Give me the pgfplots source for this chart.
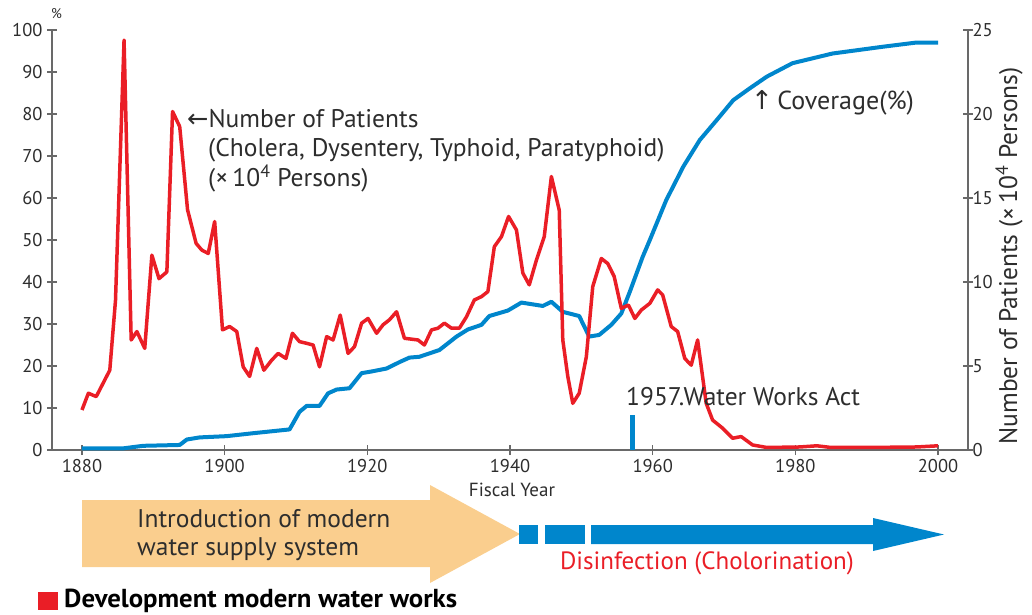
\documentclass[border=0pt]{standalone}
\usepackage{fontspec}
\setmainfont{PT Sans}
\newfontfamily\symfont{DejaVu Sans}
\usepackage{pgfplots}
\usepackage{pgfplotstable}
\pgfplotsset{compat=1.18}

\definecolor{covblue}{RGB}{0,134,204}
\definecolor{patred}{RGB}{234,30,38}
\definecolor{axgray}{RGB}{105,105,105}
\definecolor{txt}{RGB}{45,45,45}
\definecolor{arroworange}{RGB}{250,206,142}

% coverage of water supply, %
\pgfplotstableread{
year cov
1880 0.4
1885.8 0.4
1888.6 1.0
1893.7 1.2
1894.7 2.5
1896.5 3.0
1900.3 3.3
1904 4.0
1909.1 4.9
1910.5 9.1
1911.5 10.5
1913.3 10.5
1914.5 13.5
1915.7 14.4
1917.5 14.7
1919.2 18.3
1920.6 18.7
1922.7 19.4
1924.6 21.0
1925.9 22.0
1927.3 22.2
1930.1 23.8
1932.5 27.0
1934.1 28.7
1936 29.8
1937.1 31.9
1939.7 33.2
1941.6 35.1
1944.6 34.3
1945.8 35.3
1947.4 32.9
1949.7 31.9
1951.1 27.0
1952.5 27.4
1954.2 29.8
1955.6 32.5
1956.8 37.7
1958.6 46.0
1959.6 50.0
1961.9 59.5
1964.3 67.5
1966.6 73.8
1969.0 78.6
1971.3 83.3
1973.6 86.1
1976.0 88.9
1979.6 92.1
1985.2 94.4
1992.2 96.0
1996.9 97.0
2000 97.0
}\coverage

% patients, x 10^4 persons
\pgfplotstableread{
year pat
1880 2.38
1880.9 3.38
1882 3.18
1883.9 4.75
1884.7 8.9
1885.9 24.4
1886.9 6.55
1887.7 7.05
1888.8 6.05
1889.8 11.6
1890.8 10.2
1891.9 10.6
1892.7 20.15
1893.7 19.25
1894.8 14.3
1896 12.3
1896.8 11.9
1897.7 11.7
1898.6 13.6
1899.7 7.15
1900.7 7.35
1901.7 7.05
1902.6 4.95
1903.5 4.38
1904.5 6.05
1905.5 4.75
1906.6 5.35
1907.5 5.75
1908.6 5.45
1909.5 6.95
1910.5 6.45
1911.5 6.35
1912.4 6.25
1913.3 4.95
1914.3 6.75
1915.2 6.55
1916.2 8.03
1917.3 5.75
1918.2 6.15
1919.2 7.55
1920.1 7.83
1921.3 6.95
1922.2 7.45
1923.1 7.75
1924.1 8.23
1925.2 6.65
1927.1 6.55
1928 6.25
1929 7.15
1929.9 7.25
1930.8 7.55
1931.8 7.25
1932.9 7.25
1933.9 7.93
1935 8.93
1936 9.13
1936.9 9.43
1937.8 12.1
1938.8 12.7
1939.8 13.9
1940.9 13.1
1941.8 10.53
1942.7 9.83
1943.7 11.3
1944.8 12.7
1945.8 16.28
1946.9 14.28
1947.4 6.55
1948.1 4.38
1948.8 2.78
1949.7 3.38
1950.7 5.55
1951.6 9.73
1952.8 11.4
1953.7 11.1
1954.6 10.33
1955.6 8.43
1956.6 8.63
1957.5 7.83
1958.4 8.33
1959.6 8.73
1960.7 9.53
1961.4 9.23
1962.6 7.35
1963.5 7.05
1964.5 5.45
1965.4 5.05
1966.3 6.55
1967.5 2.78
1968.4 1.78
1969.8 1.3
1971.2 0.7
1972.4 0.8
1974 0.3
1976 0.15
1980.6 0.18
1983 0.25
1985 0.15
1990 0.15
1997 0.18
2000 0.25
}\patients

\pgfplotsset{
  base/.style={
    scale only axis, width=916pt, height=420pt,
    xmin=1875.8, xmax=2004.2,
    tick style={axgray, line width=1.6pt},
    major tick length=10pt, tick align=inside,
    tick label style={txt, font=\fontsize{18.5}{18.5}\selectfont},
    /pgf/number format/assume math mode=true,
    /pgf/number format/1000 sep={},
  },
  plainlines/.style={
    axis line style={axgray, line width=2pt, -},
    every outer x axis line/.append style={-},
    every outer y axis line/.append style={-},
    every inner x axis line/.append style={-},
    every inner y axis line/.append style={-},
  }
}

\begin{document}
\begin{tikzpicture}
% page in image pixels
\begin{scope}[x=1pt, y=-1pt, shift={(-52pt,450pt)}]
  \path[use as bounding box] (0,0) rectangle (1032,614);
\end{scope}

\begin{axis}[base,
  ymin=0, ymax=100,
  axis x line=bottom, axis y line=left, plainlines,
  xtick={1880,1900,...,2000}, ytick={0,10,...,100},
  yticklabel style={xshift=-1pt},
  xticklabel style={yshift=-1pt},
]
\addplot[covblue, line width=4pt, line join=round] table[x=year, y=cov] {\coverage};
\addplot[covblue, line width=5pt] coordinates {(1957.1,0) (1957.1,8.3)};
\end{axis}

\begin{axis}[base,
  ymin=0, ymax=25,
  axis x line=none, axis y line=right, plainlines,
  ytick={0,5,...,25},
  yticklabel style={xshift=-4pt},
]
\addplot[patred, line width=3.5pt, line join=round] table[x=year, y=pat] {\patients};
\end{axis}

\begin{scope}[x=1pt, y=-1pt, shift={(-52pt,450pt)}, every node/.style={inner sep=0pt, text=txt}]
  \node[anchor=west, font=\fontsize{14}{14}\selectfont] at (51,14) {\%};
  \node[anchor=west, font=\fontsize{25.5}{25.5}\selectfont] at (187,119) {{\symfont ←}Number of Patients};
  \node[anchor=west, font=\fontsize{25.5}{25.5}\selectfont] at (208,150) {(Cholera, Dysentery, Typhoid, Paratyphoid)};
  \node[anchor=west, font=\fontsize{25.5}{25.5}\selectfont] at (208,178) {(×\,10\textsuperscript{4} Persons)};
  \node[anchor=west, font=\fontsize{26}{26}\selectfont] at (751,103) {{\symfont ↑}\,Coverage(\%)};
  \node[anchor=west, font=\fontsize{25.5}{25.5}\selectfont] at (626,397) {1957.Water Works Act};
  \node[rotate=90, font=\fontsize{25.5}{25.5}\selectfont] at (1009,256) {Number of Patients (×\,10\textsuperscript{4} Persons)};
  \node[font=\fontsize{19}{19}\selectfont] at (512,490) {Fiscal Year};

  \fill[arroworange] (82,500) -- (430,500) -- (430,485) -- (520,534) -- (430,583) -- (430,567) -- (82,567) -- cycle;
  \node[anchor=west, align=left, font=\fontsize{25.5}{28}\selectfont] at (137,535) {Introduction of modern\\water supply system};

  \fill[covblue] (519,525) rectangle (538,544);
  \fill[covblue] (545,525) rectangle (585,544);
  \fill[covblue] (591,525) -- (873,525) -- (873,518) -- (944,534.5) -- (873,551) -- (873,544) -- (591,544) -- cycle;
  \node[text=patred, font=\fontsize{25}{25}\selectfont] at (707,563) {Disinfection (Cholorination)};

  \fill[patred] (38,592) rectangle (58,610);
  \node[anchor=west, text=black, font=\bfseries\fontsize{26}{26}\selectfont] at (64,601) {\scalebox{1.03}[1]{Development modern water works}};
\end{scope}
\end{tikzpicture}
\end{document}
